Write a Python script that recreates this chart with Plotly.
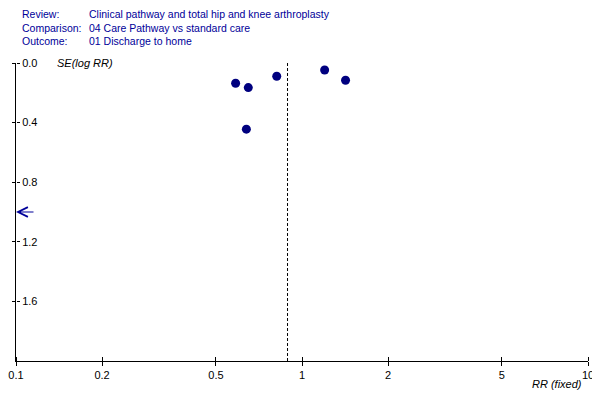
import math

import plotly.graph_objects as go

# study estimates
rr = [0.586, 0.649, 0.816, 0.639, 1.20, 1.42]
se_log_rr = [0.136, 0.165, 0.089, 0.444, 0.047, 0.116]

pooled_rr = 0.89
se_max = 2.0
offscale_se = [1.0]  # point off the left edge of the scale

x_ticks = [0.1, 0.2, 0.5, 1, 2, 5, 10]
x_tick_labels = ["0.1", "0.2", "0.5", "1", "2", "5", "10"]
y_ticks = [0.0, 0.4, 0.8, 1.2, 1.6]
y_tick_labels = ["0.0", "0.4", "0.8", "1.2", "1.6"]

header_keys = ["Review:", "Comparison:", "Outcome:"]
header_values = [
    "Clinical pathway and total hip and knee arthroplasty",
    "04 Care Pathway vs standard care",
    "01 Discharge to home",
]

BLUE = "#000099"
DOT = "#00007f"
FONT = "Liberation Sans, Arial, sans-serif"

# the page body adds an 8px margin, so the figure is sized to fit inside it
W, H = 592, 392
TOP, LEFT = 55, 8

fig = go.Figure()

# pooled estimate line (on the overlay axes so they get drawn)
fig.add_trace(
    go.Scatter(
        x=[pooled_rr, pooled_rr],
        y=[0, se_max],
        mode="lines",
        line=dict(color="black", width=1, dash="3px,2px"),
        hoverinfo="skip",
        xaxis="x2",
        yaxis="y2",
    )
)

fig.add_trace(
    go.Scatter(
        x=rr,
        y=se_log_rr,
        mode="markers",
        marker=dict(color=DOT, size=9),
    )
)

axis_common = dict(
    showgrid=False,
    zeroline=False,
    tickcolor="black",
    tickwidth=1,
    automargin=False,
)

fig.update_layout(
    width=W,
    height=H,
    margin=dict(l=LEFT, r=12, t=TOP, b=39, pad=0),
    paper_bgcolor="white",
    plot_bgcolor="white",
    showlegend=False,
    font=dict(family=FONT, size=11, color="black"),
    xaxis=dict(
        type="log",
        range=[-1, 1],
        tickvals=x_ticks,
        ticktext=x_tick_labels,
        ticks="outside",
        ticklen=4,
        ticklabeloverflow="allow",
        showline=True,
        linecolor="black",
        linewidth=1,
        **axis_common,
    ),
    yaxis=dict(
        range=[se_max, 0],
        tickvals=y_ticks,
        ticks="outside",
        ticklen=3,
        showticklabels=False,
        showline=True,
        linecolor="black",
        linewidth=1,
        **axis_common,
    ),
    # overlay axes to get ticks crossing the axis lines
    xaxis2=dict(
        type="log",
        range=[-1, 1],
        overlaying="x",
        side="top",
        anchor="free",
        position=0,
        tickvals=x_ticks,
        ticks="outside",
        ticklen=4,
        showticklabels=False,
        showline=False,
        **axis_common,
    ),
    yaxis2=dict(
        range=[se_max, 0],
        overlaying="y",
        side="right",
        anchor="free",
        position=0,
        tickvals=y_ticks,
        ticktext=y_tick_labels,
        ticks="outside",
        ticklen=3,
        showticklabels=True,
        showline=False,
        **axis_common,
    ),
)

# header block: one annotation per column, rows split by line breaks
for text, shift in [("<br>".join(header_keys), 4), ("<br>".join(header_values), 71)]:
    fig.add_annotation(
        x=0, xref="paper", xshift=shift,
        y=1, yref="paper", yshift=TOP - 19,
        text=text, showarrow=False, xanchor="left", yanchor="middle",
        align="left",
        font=dict(color=BLUE, size=10.5),
    )

# axis titles
fig.add_annotation(
    x=0, xref="paper", xshift=39,
    y=0, yref="y", text="<i>SE(log RR)</i>",
    showarrow=False, xanchor="left", yanchor="middle",
)
fig.add_annotation(
    x=1, xref="paper", xshift=-4,
    y=0, yref="paper", yshift=-23,
    text="<i>RR (fixed)</i>",
    showarrow=False, xanchor="right", yanchor="middle",
)

# off-scale arrow at the left edge
for s in offscale_se:
    fig.add_annotation(
        x=math.log10(x_ticks[0]), xref="x",
        y=s, yref="y",
        ax=19, ay=0,
        showarrow=True, arrowhead=5, arrowsize=1.6, arrowwidth=1.2,
        arrowcolor=BLUE, text="",
    )

fig.write_html("out.html")
